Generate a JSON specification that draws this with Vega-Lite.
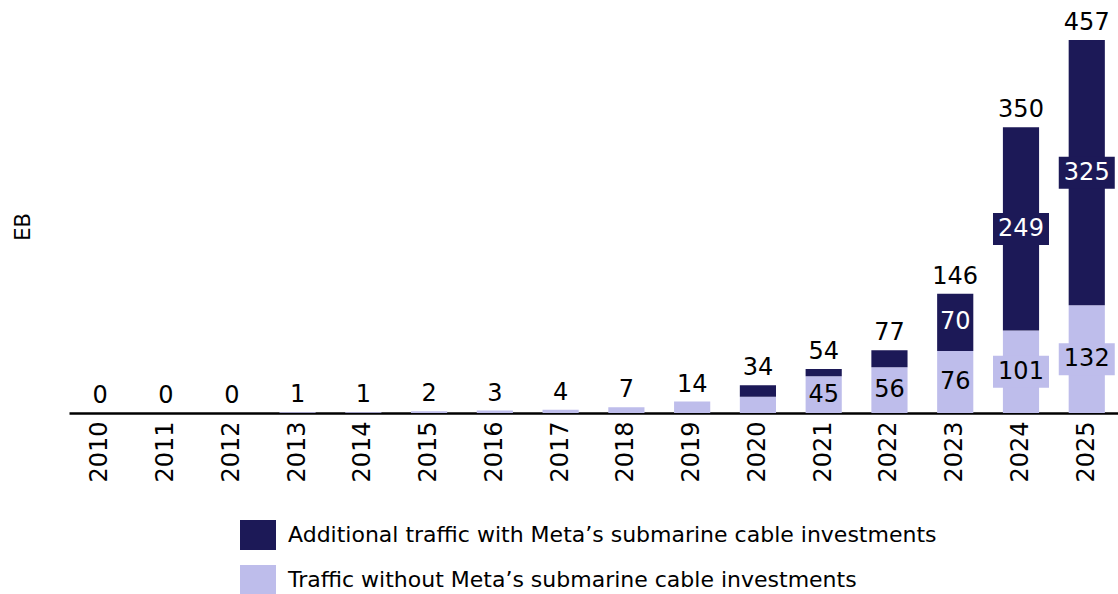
{
  "$schema": "https://vega.github.io/schema/vega-lite/v6.json",
  "autosize": {"type": "none"},
  "padding": {"left": 69, "top": 40, "right": 0, "bottom": 181},
  "width": 1049,
  "height": 373,
  "background": "white",
  "config": {
    "font": "DejaVu Sans",
    "view": {"stroke": null},
    "text": {"font": "DejaVu Sans"}
  },
  "data": {
    "values": [
      {"year": "2010", "without": 0, "additional": 0, "total": 0},
      {"year": "2011", "without": 0, "additional": 0, "total": 0},
      {"year": "2012", "without": 0, "additional": 0, "total": 0},
      {"year": "2013", "without": 1, "additional": 0, "total": 1},
      {"year": "2014", "without": 1, "additional": 0, "total": 1},
      {"year": "2015", "without": 2, "additional": 0, "total": 2},
      {"year": "2016", "without": 3, "additional": 0, "total": 3},
      {"year": "2017", "without": 4, "additional": 0, "total": 4},
      {"year": "2018", "without": 7, "additional": 0, "total": 7},
      {"year": "2019", "without": 14, "additional": 0, "total": 14},
      {"year": "2020", "without": 20, "additional": 14, "total": 34},
      {"year": "2021", "without": 45, "additional": 9, "total": 54},
      {"year": "2022", "without": 56, "additional": 21, "total": 77},
      {"year": "2023", "without": 76, "additional": 70, "total": 146},
      {"year": "2024", "without": 101, "additional": 249, "total": 350},
      {"year": "2025", "without": 132, "additional": 325, "total": 457}
    ]
  },
  "encoding": {
    "x": {
      "field": "year",
      "type": "ordinal",
      "scale": {"paddingInner": 0.45, "paddingOuter": 0.2},
      "axis": {
        "title": null,
        "labelAngle": -90,
        "labelFontSize": 24,
        "labelColor": "#000000",
        "labelPadding": 8,
        "ticks": false,
        "domainColor": "#000000",
        "domainWidth": 2.5,
        "grid": false
      }
    }
  },
  "layer": [
    {
      "transform": [{"fold": ["without", "additional"], "as": ["series", "value"]}],
      "mark": {"type": "bar"},
      "encoding": {
        "y": {
          "field": "value",
          "type": "quantitative",
          "stack": "zero",
          "scale": {"domain": [0, 457], "nice": false},
          "axis": {
            "title": "EB",
            "titleFontSize": 21,
            "titleFontWeight": "normal",
            "titleColor": "#000000",
            "titlePadding": 36,
            "labels": false,
            "ticks": false,
            "domain": false,
            "grid": false
          }
        },
        "color": {
          "field": "series",
          "type": "nominal",
          "scale": {"domain": ["additional", "without"], "range": ["#1c1957", "#bebdeb"]},
          "legend": {
            "title": null,
            "orient": "none",
            "legendX": 174,
            "legendY": 480,
            "direction": "vertical",
            "padding": 0,
            "symbolType": "M-1.2,-1H1.2V1H-1.2Z",
            "symbolSize": 900,
            "symbolStrokeWidth": 0,
            "symbolOpacity": 1,
            "labelFontSize": 22,
            "labelColor": "#000000",
            "labelOffset": 15,
            "labelLimit": 1000,
            "rowPadding": 15,
            "labelExpr": "datum.label == 'additional' ? 'Additional traffic with Meta’s submarine cable investments' : 'Traffic without Meta’s submarine cable investments'"
          }
        },
        "order": {"field": "series", "sort": "descending"}
      }
    },
    {
      "mark": {"type": "text", "baseline": "alphabetic", "dy": -10, "fontSize": 24, "color": "#000000"},
      "encoding": {
        "y": {"field": "total", "type": "quantitative", "scale": {"domain": [0, 457], "nice": false}, "axis": null},
        "text": {"field": "total", "type": "quantitative"}
      }
    },
    {
      "transform": [{"filter": "datum.without >= 100"}],
      "mark": {"type": "point", "filled": true, "shape": "M-1.75,-1H1.75V1H-1.75Z", "size": 1024, "color": "#bebdeb", "opacity": 1, "strokeWidth": 0},
      "encoding": {
        "y": {"field": "without", "type": "quantitative", "scale": {"domain": [0, 914], "nice": false}, "axis": null}
      }
    },
    {
      "transform": [{"filter": "datum.without >= 40"}],
      "mark": {"type": "text", "baseline": "middle", "fontSize": 24, "color": "#000000"},
      "encoding": {
        "y": {"field": "without", "type": "quantitative", "scale": {"domain": [0, 914], "nice": false}, "axis": null},
        "text": {"field": "without", "type": "quantitative"}
      }
    },
    {
      "transform": [
        {"filter": "datum.additional >= 100"},
        {"fold": ["without", "total"], "as": ["k", "v"]},
        {"aggregate": [{"op": "sum", "field": "v", "as": "mid2"}], "groupby": ["year", "additional"]}
      ],
      "mark": {"type": "point", "filled": true, "shape": "M-1.75,-1H1.75V1H-1.75Z", "size": 1024, "color": "#1c1957", "opacity": 1, "strokeWidth": 0},
      "encoding": {
        "y": {"field": "mid2", "type": "quantitative", "scale": {"domain": [0, 914], "nice": false}, "axis": null}
      }
    },
    {
      "transform": [
        {"filter": "datum.additional >= 60"},
        {"fold": ["without", "total"], "as": ["k", "v"]},
        {"aggregate": [{"op": "sum", "field": "v", "as": "mid2"}], "groupby": ["year", "additional"]}
      ],
      "mark": {"type": "text", "baseline": "middle", "fontSize": 24, "color": "#ffffff"},
      "encoding": {
        "y": {"field": "mid2", "type": "quantitative", "scale": {"domain": [0, 914], "nice": false}, "axis": null},
        "text": {"field": "additional", "type": "quantitative"}
      }
    }
  ],
  "resolve": {"scale": {"y": "independent"}}
}
